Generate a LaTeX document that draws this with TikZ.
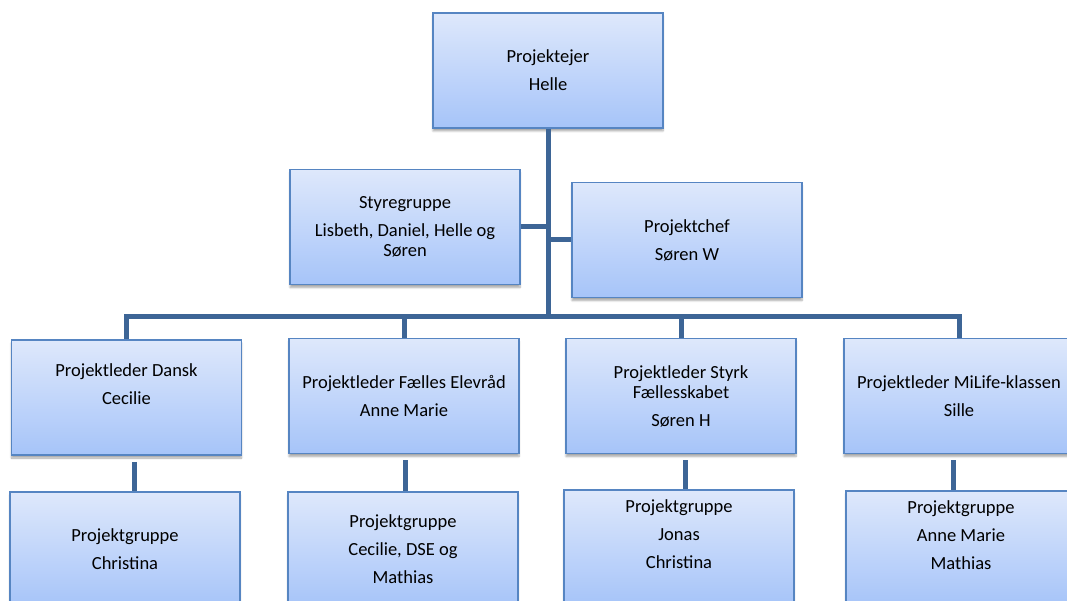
\documentclass[tikz,border=0pt]{standalone}
\usepackage{fontspec}
\setmainfont{Carlito}
\usetikzlibrary{positioning}
\usetikzlibrary{shadows.blur}

\definecolor{boxtop}{HTML}{DEE8FB}
\definecolor{boxbottom}{HTML}{A6C4F9}
\definecolor{boxline}{HTML}{5685C2}
\definecolor{connline}{HTML}{3D6596}

\tikzset{
  orgbox/.style={draw=boxline, line width=1.6pt, top color=boxtop, bottom color=boxbottom,
    minimum width=230pt, minimum height=115pt, align=center, inner sep=2pt,
    font=\fontsize{18.5}{20}\selectfont,
    blur shadow={shadow xshift=0pt, shadow yshift=-3pt, shadow blur steps=6, shadow opacity=35}},
  conn/.style={draw=connline, line width=5pt}
}

\begin{document}
\begin{tikzpicture}[x=1pt, y=-1pt]
  \clip (0,0) rectangle (1067,601);

  \node[orgbox] (pejer) at (548,70.5) {Projektejer\\[8pt]Helle};
  \node[orgbox] (styre) at (405,227) {Styregruppe\\[8pt]Lisbeth, Daniel, Helle og\\Søren};
  \node[orgbox] (chef)  at (687,240) {Projektchef\\[8pt]Søren W};

  % projektledere
  \foreach \i/\x/\y/\txt in {
      1/126.5/397.5/{Projektleder Dansk\\[8pt]Cecilie\\[1pt]\strut},
      2/404/396/{Projektleder Fælles Elevråd\\[8pt]Anne Marie},
      3/681/396/{Projektleder Styrk\\Fællesskabet\\[8pt]Søren H},
      4/959/396/{Projektleder MiLife-klassen\\[8pt]Sille}} {
    \node[orgbox] (pl\i) at (\x,\y) {\txt};
  }

  % projektgrupper
  \foreach \i/\x/\y/\txt in {
      1/125/549.5/{Projektgruppe\\[8pt]Christina},
      2/403/549.5/{Projektgruppe\\[8pt]Cecilie, DSE og\\[8pt]Mathias},
      3/679/547.5/{Projektgruppe\\[8pt]Jonas\\[8pt]Christina\\[1pt]\strut},
      4/961/548.5/{Projektgruppe\\[8pt]Anne Marie\\[8pt]Mathias\\[1pt]\strut}} {
    \node[orgbox] (pg\i) at (\x,\y) {\txt};
  }

  \coordinate (hub) at (548,316);

  \draw[conn] (pejer.south) -- (hub);
  \draw[conn] (styre.east) -- (styre.east -| hub);
  \draw[conn] (chef.west) -- (chef.west -| hub);
  \draw[conn] (pl1.north) -- (pl1.north |- hub) -- (pl4.north |- hub) -- (pl4.north);
  \foreach \i in {2,3} {
    \draw[conn] (pl\i.north |- hub) -- (pl\i.north);
  }

  \foreach \i/\dx in {1/8,2/1,3/4,4/-6} {
    \draw[conn] ([xshift=\dx pt, yshift=-6pt]pl\i.south) -- ([xshift=\dx pt]pl\i.south |- pg\i.north);
  }
\end{tikzpicture}
\end{document}
